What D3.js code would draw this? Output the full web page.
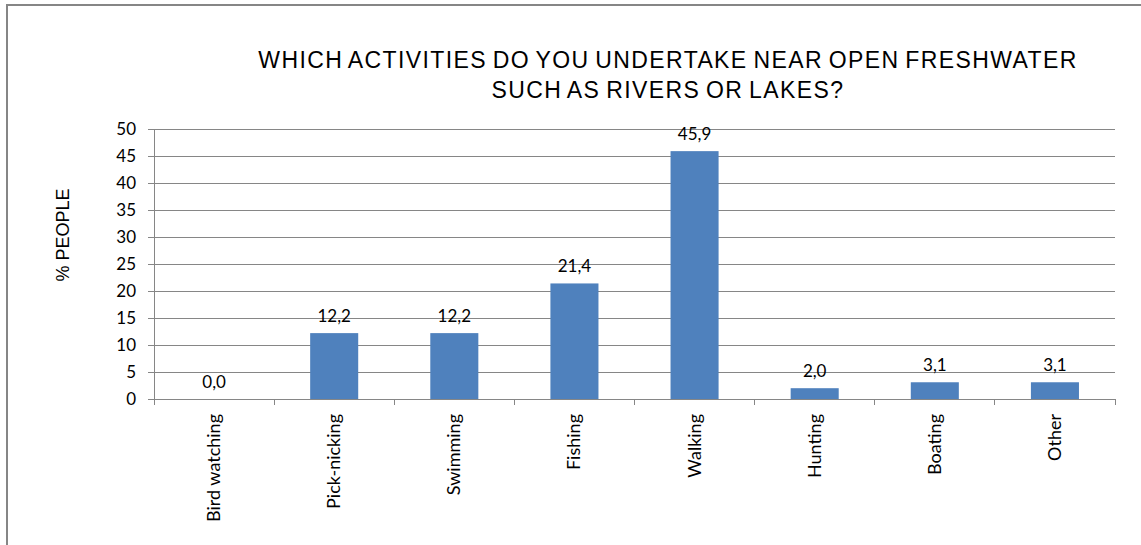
<!DOCTYPE html>
<html><head><meta charset="utf-8">
<script src="https://cdn.jsdelivr.net/npm/d3@7"></script>
<style>body{margin:0;background:#fff}svg{display:block}</style>
</head><body>
<script>
const categories = ["Bird watching","Pick-nicking","Swimming","Fishing","Walking","Hunting","Boating","Other"];
const values = [0.0, 12.2, 12.2, 21.4, 45.9, 2.0, 3.1, 3.1];
const yTicks = [0,5,10,15,20,25,30,35,40,45,50];
const titleLines = ["WHICH ACTIVITIES DO YOU UNDERTAKE NEAR OPEN FRESHWATER","SUCH AS RIVERS OR LAKES?"];
const yTitle = "% PEOPLE";

const W = 1141, H = 545;
const LF = "Lato, 'Open Sans', sans-serif";
const svg = d3.select("body").append("svg").attr("width", W).attr("height", H);
svg.append("rect").attr("x", 7).attr("y", 5).attr("width", W + 10).attr("height", H + 10)
  .attr("fill", "none").attr("stroke", "#868686").attr("stroke-width", 2);

const m = {left: 154, right: 1115, top: 129, bottom: 399};
const x = d3.scaleBand().domain(categories).range([m.left, m.right]).paddingInner(0.6).paddingOuter(0.3);
const xb = d3.scaleLinear().domain([0, categories.length]).range([m.left, m.right]);
const y = d3.scaleLinear().domain([0, 50]).range([m.bottom, m.top]);

// gridlines
svg.append("g").selectAll("line").data(yTicks.filter(d => d > 0)).join("line")
  .attr("x1", m.left).attr("x2", m.right).attr("y1", d => y(d)).attr("y2", d => y(d))
  .attr("stroke", "#868686").attr("stroke-width", 1).attr("shape-rendering", "crispEdges");

// y axis
const yAxis = svg.append("g").attr("transform", `translate(${m.left},0)`)
  .call(d3.axisLeft(y).tickValues(yTicks).tickSize(6).tickPadding(12).tickFormat(d3.format("d")));
yAxis.selectAll("line,path").attr("stroke", "#868686").attr("shape-rendering", "crispEdges");
yAxis.select(".domain").attr("d", `M0,${y(50)}V${y(0)}`);
yAxis.selectAll("text").attr("font-family", LF).attr("font-size", 17).attr("fill", "#000");

// bars
svg.append("g").selectAll("rect").data(values).join("rect")
  .attr("x", (d, i) => x(categories[i])).attr("width", x.bandwidth())
  .attr("y", d => y(d)).attr("height", d => y(0) - y(d))
  .attr("fill", "#4f81bd");

// x axis
const xg = svg.append("g");
xg.append("line").attr("x1", m.left).attr("x2", m.right).attr("y1", m.bottom).attr("y2", m.bottom)
  .attr("stroke", "#868686").attr("shape-rendering", "crispEdges");
xg.selectAll("line.t").data(d3.range(categories.length + 1)).join("line").attr("class", "t")
  .attr("x1", d => xb(d)).attr("x2", d => xb(d)).attr("y1", m.bottom).attr("y2", m.bottom + 6)
  .attr("stroke", "#868686").attr("shape-rendering", "crispEdges");
xg.selectAll("text").data(categories).join("text")
  .attr("transform", d => `translate(${x(d) + x.bandwidth() / 2 + 6},${m.bottom + 15}) rotate(-90)`)
  .attr("text-anchor", "end")
  .attr("font-family", LF).attr("font-size", 18).attr("fill", "#000")
  .text(d => d);

// value labels
svg.append("g").selectAll("text").data(values).join("text")
  .attr("x", (d, i) => x(categories[i]) + x.bandwidth() / 2)
  .attr("y", d => y(d) - 11)
  .attr("text-anchor", "middle")
  .attr("font-family", LF).attr("font-size", 17).attr("fill", "#000")
  .text(d => d3.format(".1f")(d).replace(".", ","));

// title
svg.append("g").selectAll("text").data(titleLines).join("text")
  .attr("x", 668).attr("y", (d, i) => 68 + i * 30)
  .attr("text-anchor", "middle")
  .attr("font-family", "'Liberation Sans', Arial, sans-serif").attr("font-size", 23)
  .attr("letter-spacing", 1.4).attr("word-spacing", -2).attr("fill", "#000")
  .text(d => d);

// y title
svg.append("text").attr("transform", `translate(69,235) rotate(-90)`)
  .attr("text-anchor", "middle")
  .attr("font-family", "'Liberation Sans', Arial, sans-serif").attr("font-size", 18).attr("fill", "#000")
  .text(yTitle);
</script>
</body></html>
